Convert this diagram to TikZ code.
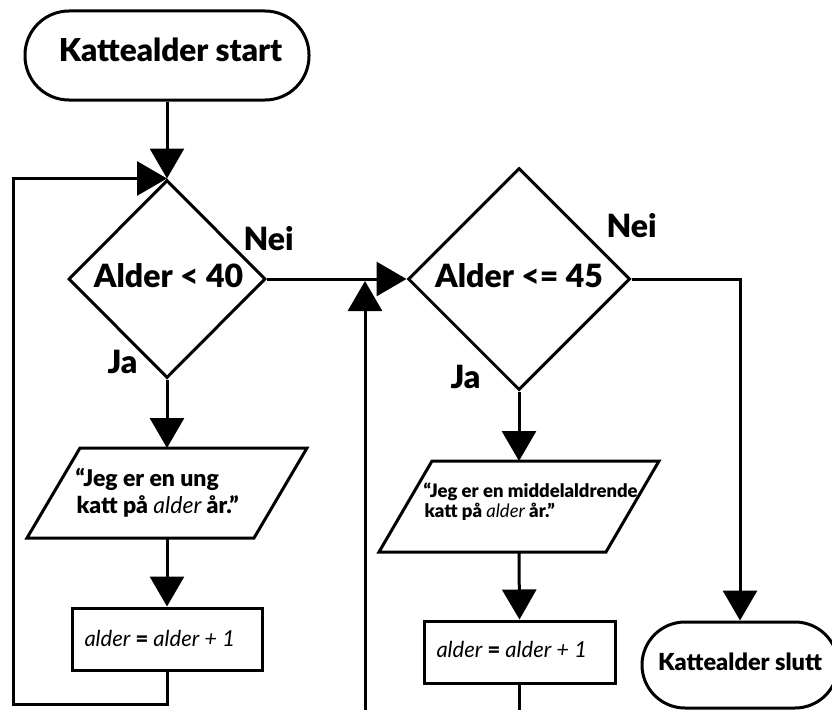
\documentclass[tikz,border=0pt]{standalone}
\usepackage{fontspec}
\setmainfont{Lato}[BoldFont={Lato Black}]
\usetikzlibrary{arrows.meta,shapes.geometric,calc}
\begin{document}
\begin{tikzpicture}[x=1pt,y=-1pt,line width=3pt,
  arr/.style={-{Triangle[length=30pt,width=34pt]}},
  term/.style={draw,rectangle,rounded corners=#1,inner sep=0pt},
  dec/.style={draw,diamond,inner sep=0pt},
  procbox/.style={draw,rectangle,inner sep=0pt},
  para/.style={rectangle,inner sep=0pt,outer sep=0pt,minimum width=280pt,minimum height=90pt},
  txt/.style={inner sep=0pt,anchor=base west},
  ctxt/.style={inner sep=0pt,anchor=base},
  big/.style={font=\bfseries\fontsize{32}{36}\selectfont},
  mid/.style={font=\bfseries\fontsize{23}{26}\selectfont},
  small/.style={font=\bfseries\fontsize{18.5}{20}\selectfont},
  code/.style={font=\itshape\fontsize{22}{25}\selectfont},
]
\useasboundingbox (0,0) rectangle (832,709);
\clip (0,0) rectangle (832,709);
% shapes
\node[term=44pt,minimum width=284pt,minimum height=89pt] (start) at (167,55.5) {};
\node[ctxt,font=\bfseries\fontsize{31.5}{36}\selectfont] (startt) at (170.5,62) {Kattealder start};
\node[dec,minimum width=197pt,minimum height=198pt] (d1) at (167,279) {};
\node[ctxt,big] (d1t) at (168.5,287) {Alder < 40};
\node[dec,minimum width=222pt,minimum height=222pt] (d2) at (519,279) {};
\node[ctxt,big] (d2t) at (519,287) {Alder <= 45};
\node[txt,big] (nei1) at (242,250) {Nei};
\node[txt,big] (ja1) at (106,373) {Ja};
\node[txt,big] (nei2) at (605,237) {Nei};
\node[txt,big] (ja2) at (449,388) {Ja};
% parallelograms
\node[para] (p1) at (167,493) {};
\draw ($(p1.north west)+(53,0)$) -- (p1.north east) -- ($(p1.south east)+(-53,0)$) -- (p1.south west) -- cycle;
\node[txt,mid] (p1a) at (74,486) {“Jeg er en ung};
\node[txt,mid] (p1b) at (75,513) {katt på {\mdseries\itshape alder} år.”};
\node[para,minimum height=91pt] (p2) at (519,506.5) {};
\draw ($(p2.north west)+(53,0)$) -- (p2.north east) -- ($(p2.south east)+(-53,0)$) -- (p2.south west) -- cycle;
\node[txt,small] (p2a) at (422,497) {“Jeg er en middelaldrende};
\node[txt,small] (p2b) at (423,517) {katt på {\mdseries\itshape alder} år.”};
% process boxes
\node[procbox,minimum width=190pt,minimum height=62pt] (b1) at (167,639) {};
\node[txt,code] (b1t) at (83,646) {alder {\upshape\bfseries =} alder + 1};
\node[procbox,minimum width=191pt,minimum height=62pt] (b2) at (519.5,652) {};
\node[txt,code] (b2t) at (435,657) {alder {\upshape\bfseries =} alder + 1};
% end
\node[term=43pt,minimum width=196pt,minimum height=86pt] (e) at (740,665) {};
\node[ctxt,font=\bfseries\fontsize{23.5}{27}\selectfont] (et) at (740,670) {Kattealder slutt};
% coordinates
\coordinate (l1a) at (13,704);
\coordinate (l2a) at (365,730);
\coordinate (l2b) at (365,281);
% connectors
\draw[arr] (start.south) -- (d1.north);
\draw[arr] (d1.south) -- (p1.north);
\draw[arr] (p1.south) -- (b1.north);
\draw[arr] (b1.south) |- (l1a) |- (d1.north);
\draw[arr] (d1.east) -- (d2.west);
\draw[arr] (b2.south) |- (l2a) -- (l2b);
\draw[arr] (d2.south) -- (p2.north);
\draw[arr] (p2.south) -- (b2.north);
\draw[arr] (d2.east) -| (e.north);
\end{tikzpicture}
\end{document}
